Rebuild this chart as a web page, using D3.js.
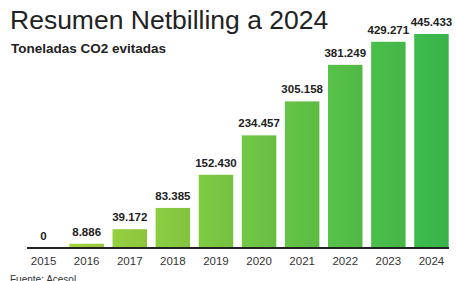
<!DOCTYPE html>
<html>
<head>
<meta charset="utf-8">
<script src="https://cdn.jsdelivr.net/npm/d3@7"></script>
<style>
  body { margin: 0; background: #fff; }
  svg { display: block; font-family: "Liberation Sans", Arial, sans-serif; }
</style>
</head>
<body>
<svg width="456" height="281"></svg>
<script>
// data
var years = ["2015", "2016", "2017", "2018", "2019", "2020", "2021", "2022", "2023", "2024"];
var toneladas = [0, 8886, 39172, 83385, 152430, 234457, 305158, 381249, 429271, 445433];
var valueLabels = ["0", "8.886", "39.172", "83.385", "152.430", "234.457", "305.158", "381.249", "429.271", "445.433"];

var svg = d3.select("svg");

// titles
svg.append("text")
    .attr("x", 10).attr("y", 29)
    .attr("font-size", 26.5)
    .attr("fill", "#222")
    .text("Resumen Netbilling a 2024");

svg.append("text")
    .attr("x", 11).attr("y", 53)
    .attr("font-size", 13.5)
    .attr("font-weight", "bold")
    .attr("fill", "#222")
    .text("Toneladas CO2 evitadas");

//scales
var x = d3.scaleBand()
    .domain(years)
    .range([22, 453])
    .paddingInner(0.2)
    .paddingOuter(0.1);

var y = d3.scaleLinear()
    .domain([0, 445433])
    .range([248, 34]);

var color = d3.scaleLinear()
    .domain([1, years.length - 1])
    .range(["#9ccb3b", "#3bb54a"]);

// subtle left-to-right shading on each bar
var defs = svg.append("defs");
years.forEach(function (yr, i) {
    var g = defs.append("linearGradient")
        .attr("id", "g" + yr)
        .attr("x1", "0%").attr("x2", "100%");
    g.append("stop").attr("offset", "0%").attr("stop-color", d3.color(color(i)).brighter(0.12));
    g.append("stop").attr("offset", "100%").attr("stop-color", d3.color(color(i)).darker(0.05));
});

//bars
svg.append("g")
    .selectAll("rect")
    .data(toneladas)
    .enter().append("rect")
    .attr("x", function (d, i) { return x(years[i]); })
    .attr("y", function (d) { return y(d); })
    .attr("width", x.bandwidth())
    .attr("height", function (d) { return y(0) - y(d); })
    .attr("fill", function (d, i) { return "url(#g" + years[i] + ")"; });

// value labels
svg.append("g")
    .selectAll("text")
    .data(toneladas)
    .enter().append("text")
    .attr("x", function (d, i) { return x(years[i]) + x.bandwidth() / 2; })
    .attr("y", function (d) { return y(d) - 8; })
    .attr("text-anchor", "middle")
    .attr("font-size", 11.5)
    .attr("font-weight", "bold")
    .attr("fill", "#222")
    .text(function (d, i) { return valueLabels[i]; });

// x axis
var xAxis = svg.append("g")
    .attr("transform", "translate(0," + y(0) + ")")
    .call(d3.axisBottom(x).tickSize(0).tickPadding(9));
xAxis.select(".domain")
    .attr("d", "M27,0H449")
    .attr("stroke", "#222")
    .attr("stroke-width", 2);
xAxis.selectAll("text")
    .attr("font-family", "Liberation Sans, Arial, sans-serif")
    .attr("font-size", 11.5)
    .attr("fill", "#333");

svg.append("text")
    .attr("x", 10).attr("y", 283)
    .attr("font-size", 10)
    .attr("fill", "#333")
    .text("Fuente: Acesol");
</script>
</body>
</html>
